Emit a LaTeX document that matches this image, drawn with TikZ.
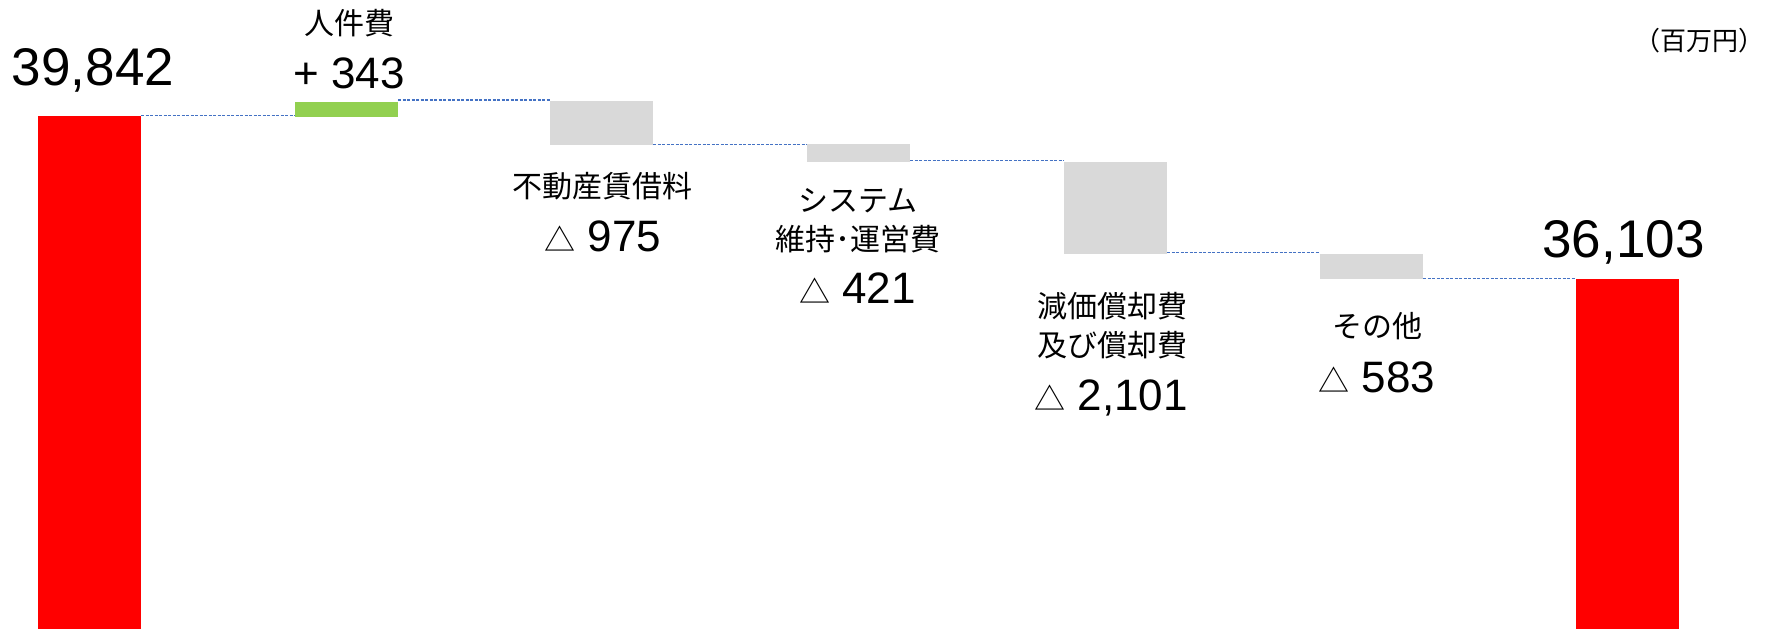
\documentclass[tikz,border=0pt]{standalone}
\usepackage{fontspec}
\setmainfont{Liberation Sans}
\newfontfamily\cjk{Noto Sans CJK JP}

\definecolor{barred}{HTML}{FF0000}
\definecolor{bargreen}{HTML}{92D050}
\definecolor{bargray}{HTML}{D9D9D9}
\definecolor{linkblue}{HTML}{4472C4}

\newcommand\deltamark{{\cjk\fontsize{31pt}{31pt}\selectfont △}}

\tikzset{
  bar/.style={anchor=north west, inner sep=0pt, outer sep=0pt, minimum width=103pt},
  link/.style={draw=linkblue, line width=1.2pt, dash pattern=on 3pt off 1.5pt},
  bignum/.style={font=\fontsize{53pt}{60pt}\selectfont, inner sep=0pt, anchor=base},
  delta/.style={font=\fontsize{44pt}{50pt}\selectfont, inner sep=0pt, anchor=base},
  item/.style={font=\cjk\fontsize{30pt}{39pt}\selectfont, inner sep=0pt, align=center},
  unit/.style={font=\cjk\fontsize{26pt}{30pt}\selectfont, inner sep=0pt}
}

\begin{document}
\begin{tikzpicture}[x=1pt,y=-1pt]
\useasboundingbox (0,0) rectangle (1773,629);

% bars
\node[bar, fill=barred, minimum height=513pt] (start) at (38,116) {};
\node[bar, fill=bargreen, minimum height=15pt] (staff) at (295,102) {};
\node[bar, fill=bargray, minimum height=44pt] (rent) at (550,101) {};
\node[bar, fill=bargray, minimum height=18pt] (sys) at (807,144) {};
\node[bar, fill=bargray, minimum height=92pt] (depr) at (1064,162) {};
\node[bar, fill=bargray, minimum height=25pt] (other) at (1320,254) {};
\node[bar, fill=barred, minimum height=350pt] (end) at (1576,279) {};

% links
\draw[link] ([yshift=0.5pt]start.north east) -- ([yshift=0.5pt]start.north east -| staff.west) ;
\draw[link] ([yshift=2pt]staff.north east) -- ([yshift=2pt]staff.north east -| rent.west) ;
\draw[link] ([yshift=0.5pt]rent.south east) -- ([yshift=0.5pt]rent.south east -| sys.west) ;
\draw[link] ([yshift=1.5pt]sys.south east) -- ([yshift=1.5pt]sys.south east -| depr.west) ;
\draw[link] ([yshift=1.5pt]depr.south east) -- ([yshift=1.5pt]depr.south east -| other.west) ;
\draw[link] ([yshift=0.5pt]other.south east) -- ([yshift=0.5pt]other.south east -| end.west) ;

% labels
\node[bignum] (startval) at (93,85) {39,842};
\node[item] (staffname) at (349.5,23.5) {人件費};
\node[delta] (staffval) at (349,88) {+ 343};
\node[item] (rentname) at (602.5,186) {不動産賃借料};
\node[delta] (rentval) at (603,251) {\deltamark\ 975};
\node[item] (sysname) at (858,220.5) {システム\\維持･運営費};
\node[delta] (sysval) at (857.5,303) {\deltamark\ 421};
\node[item] (deprname) at (1112,325.5) {減価償却費\\及び償却費};
\node[delta] (deprval) at (1111,410) {\deltamark\ 2,101};
\node[item] (othername) at (1377.5,326.5) {その他};
\node[delta] (otherval) at (1377,392) {\deltamark\ 583};
\node[bignum] (endval) at (1623.5,257) {36,103};
\node[unit] (unitname) at (1699,41) {（百万円）};
\end{tikzpicture}
\end{document}
